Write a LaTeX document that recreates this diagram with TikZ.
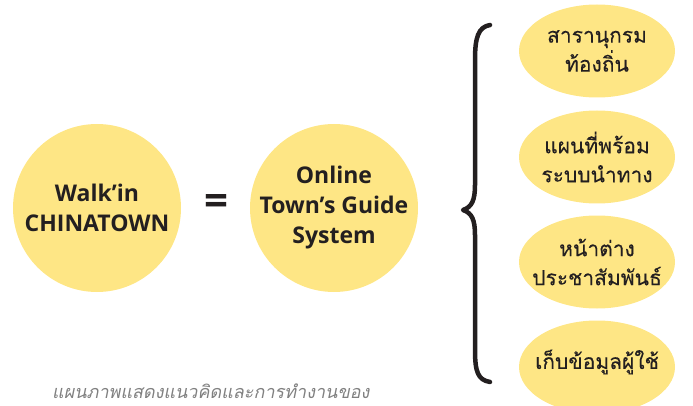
\documentclass[tikz,border=0pt]{standalone}
\usepackage{fontspec}
\setmainfont{Open Sans}
\newfontfamily\thaifont[Script=Thai,FakeBold=0.2]{Loma}
\newfontfamily\thaislant[Script=Thai,FakeSlant=0.2]{Loma}
\usetikzlibrary{shapes.geometric}
\definecolor{bub}{HTML}{FEE685}
\definecolor{ink}{HTML}{231F20}
\definecolor{capgray}{HTML}{808080}
\tikzset{
  bigbubble/.style={circle, fill=bub, minimum size=168pt, inner sep=0pt},
  bigtext/.style={align=center, text=ink, font=\bfseries\fontsize{23}{30}\selectfont},
  smallbubble/.style={ellipse, fill=bub, minimum width=156pt, minimum height=93pt, inner sep=0pt},
  smalltext/.style={align=center, text=ink, font=\thaifont\fontsize{21}{29}\selectfont},
  eqsign/.style={text=ink, font=\bfseries\fontsize{42}{42}\selectfont, inner sep=0pt},
  captext/.style={text=capgray, font=\thaislant\fontsize{18}{20}\selectfont, anchor=base west, inner sep=0pt},
}
\begin{document}
\begin{tikzpicture}[x=1pt,y=-1pt]
\useasboundingbox (0,0) rectangle (693,406);
\clip (0,0) rectangle (693,406);
% circles
\node[bigbubble] (walk) at (97,208) {};
\node[bigtext] (walktext) at (walk.center) {Walk’in\\CHINATOWN};
\node[eqsign] (eq) at (216,205) {=};
\node[bigbubble] (online) at (334,208) {};
\node[bigtext] (onlinetext) at (online.center) {Online\\Town’s Guide\\System};
% brace
\coordinate (btop) at (490,25);
\coordinate (btip) at (463,210);
\coordinate (bbot) at (490,382);
\draw[ink, line width=4.5pt, line cap=round, line join=round]
  (btop) .. controls (478,27) and (475,38) .. (475,60)
  -- (475,185) .. controls (475,200) and (472,207) .. (btip)
  .. controls (472,213) and (475,220) .. (475,235)
  -- (475,350) .. controls (475,372) and (478,380) .. (bbot);
% ellipses
\node[smallbubble] (e1) at (597,51) {};
\node[smalltext] (t1) at (e1.center) {สารานุกรม\\ท้องถิ่น};
\node[smallbubble] (e2) at (597,157) {};
\node[smalltext] (t2) at (e2.center) {แผนที่พร้อม\\ระบบนำทาง};
\node[smallbubble] (e3) at (597,262) {};
\node[smalltext] (t3) at (e3.center) {หน้าต่าง\\ประชาสัมพันธ์};
\node[smallbubble] (e4) at (597,367) {};
\node[smalltext] (t4) at (597,362) {เก็บข้อมูลผู้ใช้};
% caption
\node[captext] (cap) at (52,398) {แผนภาพแสดงแนวคิดและการทำงานของ};
\end{tikzpicture}
\end{document}
